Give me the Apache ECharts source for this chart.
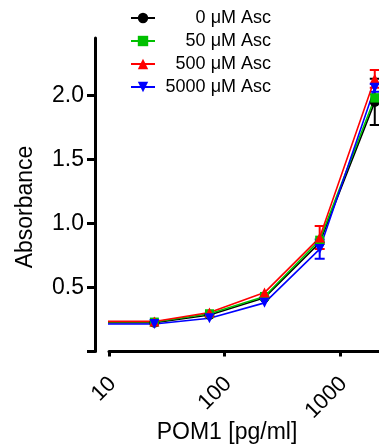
<!DOCTYPE html>
<html>
<head>
<meta charset="utf-8">
<script src="https://cdn.jsdelivr.net/npm/echarts@6/dist/echarts.min.js"></script>
<style>
  html, body { margin: 0; padding: 0; overflow: hidden; background: #fff; }
  #chart { width: 500px; height: 446px; }
</style>
</head>
<body>
<div id="chart"></div>
<script>
// POM1 dilution series (pg/ml), 3-fold steps
const concentrations = [8.23, 24.7, 74.1, 222, 667, 2000];

const asc0 = [0.225, 0.225, 0.285, 0.42, 0.85, 1.95];
const asc50 = [0.23, 0.23, 0.295, 0.43, 0.87, 1.98];
const asc500 = [0.235, 0.235, 0.305, 0.46, 0.89, 2.13];
const asc5000 = [0.215, 0.215, 0.26, 0.38, 0.8, 2.06];

// SD / error bars
const err0 = [0, 0, 0, 0, 0, 0.18];
const err50 = [0, 0, 0, 0, 0, 0.03];
const err500 = [0, 0, 0, 0, 0.09, 0.07];
const err5000 = [0, 0, 0, 0, 0.075, 0.03];

const yTicks = [0, 0.5, 1.0, 1.5, 2.0];
const yLabels = [0.5, 1.0, 1.5, 2.0];

const groups = [
  { name: "0 μM Asc", values: asc0, errors: err0, color: "#000000", symbol: "circle", rotate: 0 },
  { name: "50 μM Asc", values: asc50, errors: err50, color: "#00c000", symbol: "rect", rotate: 0 },
  { name: "500 μM Asc", values: asc500, errors: err500, color: "#ff0000", symbol: "triangle", rotate: 0 },
  { name: "5000 μM Asc", values: asc5000, errors: err5000, color: "#0000ff", symbol: "triangle", rotate: 180 },
];

const FONT = "Liberation Sans, Arial, sans-serif";

const myChart = echarts.init(document.getElementById("chart"));

const series = [];
groups.forEach((g) => {
  const errData = [];
  g.values.forEach((v, i) => {
    if (g.errors[i] > 0) {
      errData.push([concentrations[i], v - g.errors[i], v + g.errors[i]]);
    }
  });
  series.push({
    type: "custom",
    name: g.name + " err",
    clip: true,
    encode: { x: 0, y: [1, 2] },
    data: errData,
    renderItem: (params, api) => {
      const x = api.value(0);
      const lo = api.coord([x, api.value(1)]);
      const hi = api.coord([x, api.value(2)]);
      const w = 5;
      const style = { stroke: g.color, lineWidth: 2 };
      return {
        type: "group",
        children: [
          { type: "line", shape: { x1: lo[0], y1: lo[1], x2: hi[0], y2: hi[1] }, style },
          { type: "line", shape: { x1: lo[0] - w, y1: lo[1], x2: lo[0] + w, y2: lo[1] }, style },
          { type: "line", shape: { x1: hi[0] - w, y1: hi[1], x2: hi[0] + w, y2: hi[1] }, style },
        ],
      };
    },
  });
  series.push({
    type: "line",
    name: g.name,
    data: concentrations.map((c, i) => [c, g.values[i]]),
    symbol: g.symbol,
    symbolRotate: g.rotate,
    symbolSize: g.symbol === "rect" ? 9 : 10,
    showAllSymbol: true,
    clip: true,
    lineStyle: { color: g.color, width: 1.6 },
    itemStyle: { color: g.color },
    emphasis: { disabled: true },
  });
});

const option = {
  animation: false,
  textStyle: { fontFamily: FONT },
  grid: {
    left: 109,
    top: 37.9,
    width: 346.5,
    height: 313.6,
  },
  legend: {
    data: groups.map((g) => g.name),
    orient: "vertical",
    left: 125,
    top: 2,
    itemWidth: 24,
    itemHeight: 13,
    itemGap: 1,
    formatter: (name) => "{a|" + name + "}",
    textStyle: {
      color: "#000",
      fontSize: 18,
      lineHeight: 22,
      fontFamily: FONT,
      rich: {
        a: { width: 111, align: "right", fontSize: 18, lineHeight: 22, fontFamily: FONT, color: "#000" },
      },
    },
  },
  xAxis: {
    type: "log",
    logBase: 10,
    min: 10,
    max: 10000,
    offset: 12.5,
    axisLine: { lineStyle: { color: "#000", width: 3 } },
    axisTick: { show: true, length: 5, lineStyle: { color: "#000", width: 3 } },
    minorTick: { show: false },
    splitLine: { show: false },
    axisLabel: {
      rotate: 45,
      margin: 20,
      padding: [0, -5, 0, 0],
      fontSize: 22,
      color: "#000",
      fontFamily: FONT,
      formatter: (v) => String(Math.round(v)),
    },
  },
  yAxis: {
    type: "value",
    min: 0,
    max: 2.45,
    interval: 0.5,
    offset: 14,
    axisLine: { show: true, lineStyle: { color: "#000", width: 3 } },
    axisTick: {
      show: true,
      length: 8,
      customValues: yTicks,
      lineStyle: { color: "#000", width: 3 },
    },
    splitLine: { show: false },
    axisLabel: {
      customValues: yLabels,
      margin: 11,
      fontSize: 23,
      color: "#000",
      fontFamily: FONT,
      formatter: (v) => v.toFixed(1),
    },
  },
  graphic: [
    {
      type: "text",
      x: 26,
      y: 207,
      rotation: Math.PI / 2,
      style: { text: "Absorbance", fontSize: 23, fontFamily: FONT, fill: "#000", align: "center", verticalAlign: "middle" },
    },
    {
      type: "text",
      x: 227,
      y: 433,
      style: { text: "POM1 [pg/ml]", fontSize: 23, fontFamily: FONT, fill: "#000", align: "center", verticalAlign: "middle" },
    },
  ],
  series: series,
};

myChart.setOption(option);
</script>
</body>
</html>
